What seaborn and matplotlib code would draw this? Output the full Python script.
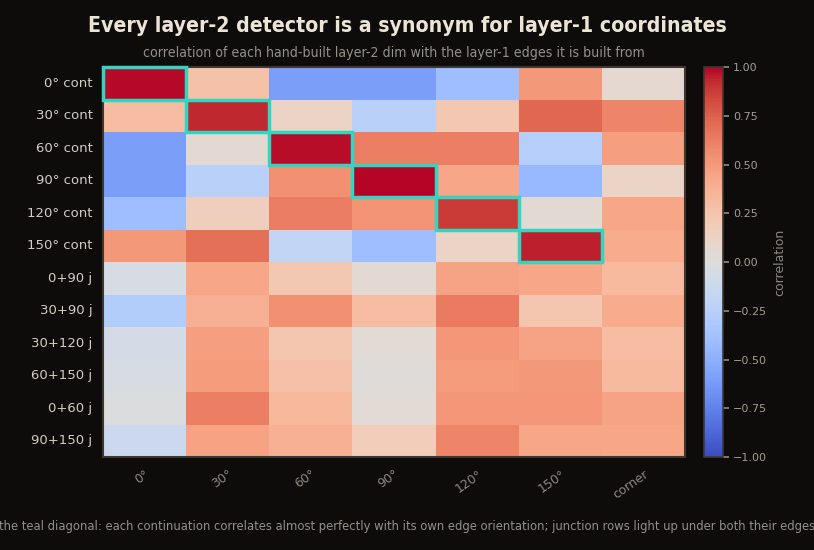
import numpy as np
import pandas as pd
import matplotlib
matplotlib.use("Agg")
import matplotlib.pyplot as plt
import seaborn as sns
from matplotlib.patches import Rectangle

rows = ["0° cont", "30° cont", "60° cont", "90° cont", "120° cont", "150° cont",
        "0+90 j", "30+90 j", "30+120 j", "60+150 j", "0+60 j", "90+150 j"]
cols = ["0°", "30°", "60°", "90°", "120°", "150°", "corner"]

r_0_cont   = [0.99, 0.27, -0.60, -0.60, -0.40, 0.50, 0.07]
r_30_cont  = [0.30, 0.93, 0.12, -0.25, 0.22, 0.72, 0.60]
r_60_cont  = [-0.60, 0.05, 0.98, 0.62, 0.62, -0.26, 0.47]
r_90_cont  = [-0.60, -0.25, 0.54, 1.00, 0.43, -0.43, 0.12]
r_120_cont = [-0.40, 0.17, 0.63, 0.53, 0.88, 0.05, 0.43]
r_150_cont = [0.50, 0.68, -0.18, -0.40, 0.12, 0.95, 0.40]
r_0_90_j   = [-0.04, 0.43, 0.22, 0.05, 0.45, 0.43, 0.32]
r_30_90_j  = [-0.28, 0.38, 0.54, 0.30, 0.64, 0.24, 0.40]
r_30_120_j = [-0.07, 0.47, 0.24, 0.04, 0.51, 0.45, 0.30]
r_60_150_j = [-0.04, 0.49, 0.28, 0.02, 0.49, 0.50, 0.32]
r_0_60_j   = [-0.01, 0.62, 0.33, 0.04, 0.51, 0.51, 0.45]
r_90_150_j = [-0.13, 0.46, 0.38, 0.18, 0.60, 0.44, 0.43]

diag_rows = [0, 1, 2, 3, 4, 5]
diag_cols = [0, 1, 2, 3, 4, 5]

title = "Every layer-2 detector is a synonym for layer-1 coordinates"
subtitle = "correlation of each hand-built layer-2 dim with the layer-1 edges it is built from"
caption = ("the teal diagonal: each continuation correlates almost perfectly with its own edge "
           "orientation; junction rows light up under both their edges")

df = pd.DataFrame([r_0_cont, r_30_cont, r_60_cont, r_90_cont, r_120_cont, r_150_cont,
                   r_0_90_j, r_30_90_j, r_30_120_j, r_60_150_j, r_0_60_j, r_90_150_j],
                  index=rows, columns=cols)

BG = "#0e0c0b"
TEAL = "#2fd6c2"

sns.set_theme(style="white")
plt.rcParams["font.family"] = ["DejaVu Sans"]

fig = plt.figure(figsize=(8.14, 5.5), dpi=100, facecolor=BG)
ax = fig.add_axes([0.1265, 0.169, 0.715, 0.709])
cax = fig.add_axes([0.865, 0.169, 0.023, 0.709])
ax.set_facecolor(BG)

sns.heatmap(df, ax=ax, cbar_ax=cax, cmap="coolwarm", vmin=-1, vmax=1,
            cbar_kws={"label": "correlation"})

for r, c in zip(diag_rows, diag_cols):
    ax.add_patch(Rectangle((c, r), 1, 1, fill=False, edgecolor=TEAL, lw=2.5, zorder=5,
                           clip_on=False))

for s in ax.spines.values():
    s.set_visible(True)
    s.set_color("#3d3832")
    s.set_linewidth(1.5)

ax.tick_params(axis="y", color="#2a2622", labelsize=9.5, length=4, width=1,
               labelcolor="#d3cdc1", rotation=0)
ax.tick_params(axis="x", color="#2a2622", labelsize=9, length=4, width=1,
               labelcolor="#8d877c")
plt.setp(ax.get_xticklabels(), rotation=35, ha="right", rotation_mode="anchor")
ax.set_xlabel("")
ax.set_ylabel("")

cbar = ax.collections[0].colorbar
cbar.outline.set_edgecolor("#3d3832")
cbar.outline.set_linewidth(1.2)
cbar.set_ticks([-1, -0.75, -0.5, -0.25, 0, 0.25, 0.5, 0.75, 1])
cbar.ax.set_yticklabels(["\u22121.00", "\u22120.75", "\u22120.50", "\u22120.25", "0.00",
                         "0.25", "0.50", "0.75", "1.00"])
cax.tick_params(color="#8d877c", labelsize=8, length=4, labelcolor="#a39d90")
cax.yaxis.label.set_color("#8d877c")
cax.yaxis.label.set_size(9)

fig.text(0.5, 0.952, title, ha="center", va="center", color="#ece4d6",
         fontsize=15.2, fontweight="bold", fontstretch="condensed")
ax.text(0.5, 1.0 + 0.025 / 0.709, subtitle, transform=ax.transAxes, ha="center",
        va="center", color="#958f83", fontsize=10.1, fontstretch="condensed")
fig.text(0.5, 0.042, caption, ha="center", va="center", color="#958f83",
         fontsize=9.3, fontstretch="condensed")

fig.savefig("out.png", dpi=100, facecolor=BG)
